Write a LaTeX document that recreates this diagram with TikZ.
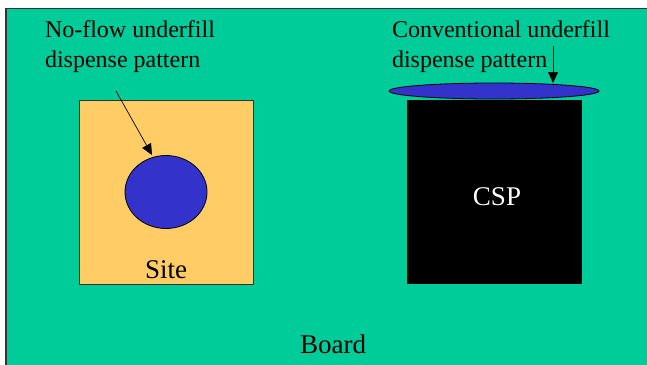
\documentclass[tikz,border=0pt]{standalone}
\usepackage{fontspec}
\setmainfont{Liberation Serif}
\usetikzlibrary{arrows.meta,shapes.geometric}

\definecolor{boardgreen}{HTML}{00CC99}
\definecolor{sitegold}{HTML}{FFCC66}
\definecolor{fillblue}{HTML}{3333CC}

\begin{document}
\begin{tikzpicture}[x=1pt, y=-1pt,
        every node/.style={inner sep=0pt, outer sep=0pt},
        label/.style={align=left, anchor=base west, font=\fontsize{24}{29.5}\selectfont},
        big/.style={font=\fontsize{27}{30}\selectfont},
        pointer/.style={-{Triangle[length=11pt, width=10pt]}, line width=0.7pt}
    ]
        \useasboundingbox (0,0) rectangle (647,364);
        % board and its frame, running off the page at right and bottom
        \fill[white] (-10,-10) rectangle (660,380);
        \node [draw=black!80, line width=1.5pt, fill=boardgreen, minimum width=700pt, minimum height=420pt, anchor=north west] (board) at (6,8.5) {};
        \node [big] (boardtxt) at (333,344) {Board};

        % left: site with the no-flow dot
        \node [draw=black!80, line width=0.8pt, fill=sitegold, minimum width=174pt, minimum height=184pt] (site) at (166,192) {};
        \node [big] (sitetxt) at (166,270) {Site};
        \node [ellipse, draw=black, line width=0.8pt, fill=fillblue, minimum width=82pt, minimum height=73pt] (dot) at (166,192) {};

        % right: CSP with the conventional bead on top
        \node [fill=black, minimum width=175pt, minimum height=184pt] (csp) at (494.5,192) {};
        \node [big, text=white] (csptxt) at (497,197) {CSP};
        \node [ellipse, draw=black, line width=0.8pt, fill=fillblue, minimum width=210pt, minimum height=16pt] (bead) at (494,91) {};

        % labels (base = last line)
        \node [label] (noflow) at (45,67) {No-flow underfill\\dispense pattern};
        \node [label] (conv) at (392,67) {Conventional underfill\\dispense pattern};

        % pointers
        \coordinate (p1) at (116,91);
        \coordinate (tip1) at (152,155);
        \coordinate (p2) at (553,46);
        \draw[pointer] (p1) -- (tip1);
        \draw[pointer] (p2) -- (p2 |- bead.north);
    \end{tikzpicture}
\end{document}
